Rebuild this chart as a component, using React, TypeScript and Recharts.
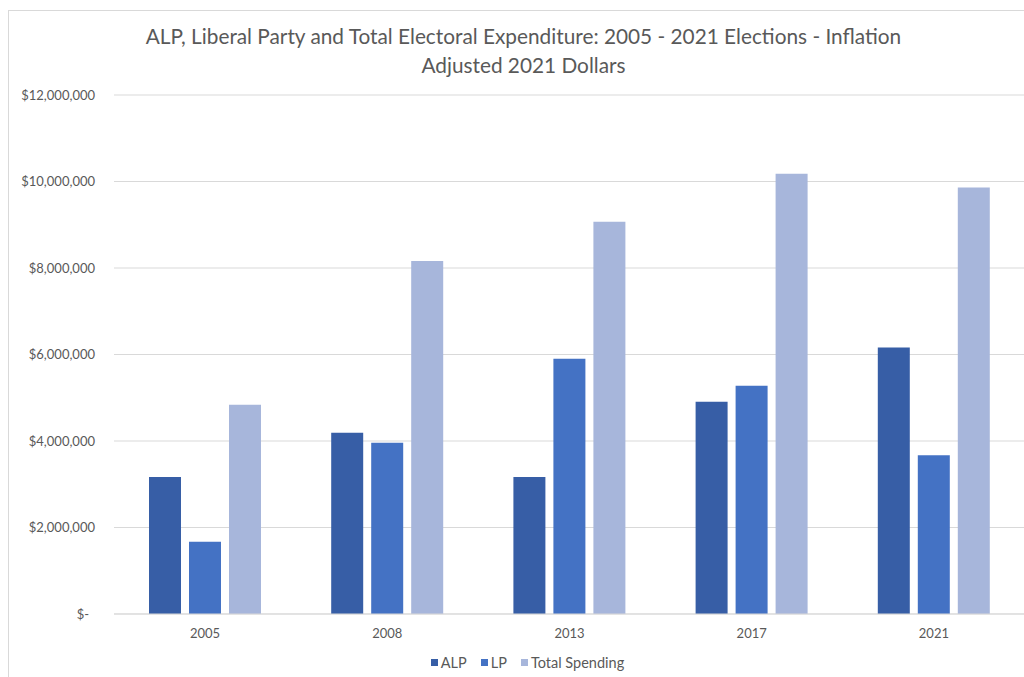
import { BarChart, Bar, XAxis, YAxis, CartesianGrid, Legend } from 'recharts';

const categories = ['2005', '2008', '2013', '2017', '2021'];
const alpValues = [3170000, 4190000, 3170000, 4910000, 6160000];
const lpValues = [1670000, 3960000, 5900000, 5280000, 3670000];
const totalValues = [4840000, 8160000, 9070000, 10180000, 9860000];
const yTicks = [0, 2000000, 4000000, 6000000, 8000000, 10000000, 12000000];

const seriesInfo = [
  { key: 'ALP', color: '#375EA6' },
  { key: 'LP', color: '#4472C4' },
  { key: 'Total Spending', color: '#A7B6DB' },
];

const data = categories.map((year, i) => ({
  year,
  ALP: alpValues[i],
  LP: lpValues[i],
  'Total Spending': totalValues[i],
}));

const FONT = 'Lato, "Open Sans", sans-serif';
const TEXT = '#595959';

function formatMoney(v: number) {
  if (v === 0) return '$-';
  return '$' + v.toLocaleString('en-US');
}

function YTick(props: any) {
  const { x, y, payload } = props;
  const v = payload.value as number;
  return (
    <text x={v === 0 ? x - 6 : x} y={y} dy="0.35em" textAnchor="end" fill={TEXT} fontSize={13} fontFamily={FONT}>
      {formatMoney(v)}
    </text>
  );
}

function LegendBox() {
  return (
    <div style={{ display: 'flex', justifyContent: 'center', alignItems: 'center', gap: 14, paddingLeft: 30, fontFamily: FONT, fontSize: 14.5, color: TEXT, height: 24 }}>
      {seriesInfo.map((s) => (
        <div key={s.key} style={{ display: 'flex', alignItems: 'center', gap: 3 }}>
          <div style={{ width: 7, height: 7, background: s.color }} />
          <span>{s.key}</span>
        </div>
      ))}
    </div>
  );
}

export default function App() {
  return (
    <div style={{ position: 'fixed', left: 0, top: 0, width: 1024, height: 677, overflow: 'hidden', background: '#fff' }}>
      <div style={{ position: 'absolute', left: 8, top: 10, width: 1100, height: 700, borderLeft: '1px solid #D9D9D9', borderTop: '1px solid #D9D9D9' }} />
      <div style={{ position: 'absolute', left: 0, top: 21, width: 1047, textAlign: 'center', fontFamily: FONT, fontSize: 20.8, lineHeight: '29px', color: TEXT }}>
        ALP, Liberal Party and Total Electoral Expenditure: 2005 - 2021 Elections - Inflation
        <br />
        Adjusted 2021 Dollars
      </div>
      <div style={{ position: 'absolute', left: 0, top: 0 }}>
        <BarChart width={1025} height={677} data={data} margin={{ top: 95, right: 0, bottom: 9, left: 0 }} barCategoryGap={35} barGap={8}>
          <CartesianGrid vertical={false} stroke="#D9D9D9" />
          <XAxis
            dataKey="year"
            axisLine={{ stroke: '#D9D9D9' }}
            tickLine={false}
            tickSize={0}
            tickMargin={15}
            height={30}
            tick={{ fill: TEXT, fontSize: 13, fontFamily: FONT }}
          />
          <YAxis
            width={114}
            domain={[0, 12000000]}
            ticks={yTicks}
            axisLine={false}
            tickLine={false}
            tickSize={0}
            tickMargin={19}
            tick={<YTick />}
          />
          <Legend verticalAlign="bottom" height={24} wrapperStyle={{ bottom: 3 }} content={() => <LegendBox />} />
          {seriesInfo.map((s) => (
            <Bar key={s.key} dataKey={s.key} fill={s.color} isAnimationActive={false} />
          ))}
        </BarChart>
      </div>
    </div>
  );
}
